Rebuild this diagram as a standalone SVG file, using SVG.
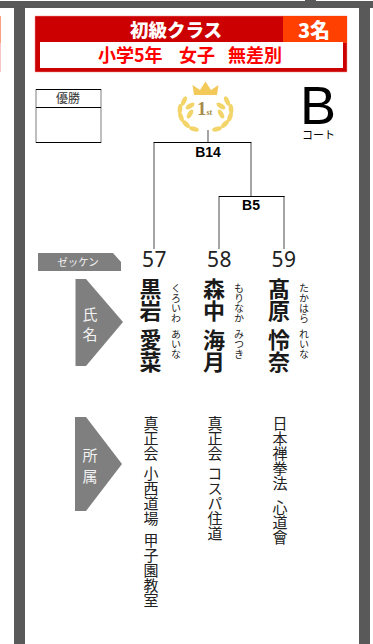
<svg xmlns="http://www.w3.org/2000/svg" width="373" height="644" viewBox="0 0 373 644">
<defs>
<style>
text{font-family:"Noto Sans CJK JP","Liberation Sans",sans-serif}
.v{writing-mode:vertical-rl;text-orientation:upright}
.n{font-size:21px;font-family:"Noto Sans",sans-serif;fill:#222;text-anchor:middle;letter-spacing:0.500px}
.name{font-size:22px;font-weight:700;fill:#1a1a1a}
.kana{font-size:10px;fill:#222}
.org{font-size:15px;fill:#222}
.lb{fill:#7f7f7f}
.lt{font-size:15px;fill:#f2f2f2;text-anchor:middle}
.g{stroke:#7f7f7f;stroke-width:1.4;fill:none}
.k{stroke:#000;stroke-width:1;fill:none}
.bk{font-size:14px;font-weight:700;font-family:"Liberation Sans",sans-serif;fill:#000;text-anchor:middle}
.sub{font-size:18px;font-weight:700;fill:#ff0000}
.leaf{fill:#f3d469}
</style>
<ellipse id="leaf" cx="0" cy="0" rx="5" ry="2.300" class="leaf"/>
</defs>
<rect width="373" height="644" fill="#fff"/>
<g id="frame">
<rect x="0" y="16" width="1" height="27" fill="#f8a080"/>
<rect x="0" y="43" width="1" height="29" fill="#fbc4c4"/>
<rect x="0" y="1" width="373" height="7" fill="#595959"/>
<rect x="14" y="1" width="11" height="643" fill="#595959"/>
<rect x="359" y="1" width="11" height="643" fill="#595959"/>
<rect x="305" y="0" width="11" height="2" fill="#595959"/>
</g>
<g id="header">
<rect x="35" y="16" width="312" height="56" fill="#cc0000" stroke="#f09a9a" stroke-width="0.500"/>
<rect x="283" y="16" width="64" height="27" fill="#ff4000"/>
<rect x="40" y="42" width="303" height="26" fill="#fff"/>
<text x="176" y="36.500" font-size="18.500" font-weight="900" fill="#fff" text-anchor="middle">初級クラス</text>
<text x="314" y="38" font-size="20" font-weight="900" fill="#fff" text-anchor="middle">3名</text>
<text class="sub" x="98" y="62">小学5年</text>
<text class="sub" x="179" y="62">女子</text>
<text class="sub" x="228" y="62">無差別</text>
</g>
<g id="winner">
<rect x="36" y="89.500" width="65" height="53" fill="#fff" stroke="#7f7f7f"/>
<path d="M36 89.500H101M36 107.500H101M36 142.500H101" stroke="#000" fill="none"/>
<text x="68" y="103" font-size="12" fill="#333" text-anchor="middle">優勝</text>
</g>
<g id="crown">
<path d="M194 95L192.500 85L200 90L205.500 81.500L211 90L218.500 85L217 95Z" fill="#f3c95a"/>
<use href="#leaf" transform="translate(184 101) rotate(-65)"/>
<use href="#leaf" transform="translate(180 109) rotate(-85)"/>
<use href="#leaf" transform="translate(181 117) rotate(-110)"/>
<use href="#leaf" transform="translate(186 124) rotate(-135)"/>
<use href="#leaf" transform="translate(194 129) rotate(-165)"/>
<use href="#leaf" transform="translate(190 106) rotate(-35)"/>
<use href="#leaf" transform="translate(190 114) rotate(-60)"/>
<use href="#leaf" transform="translate(227 101) rotate(65)"/>
<use href="#leaf" transform="translate(231 109) rotate(85)"/>
<use href="#leaf" transform="translate(230 117) rotate(110)"/>
<use href="#leaf" transform="translate(225 124) rotate(135)"/>
<use href="#leaf" transform="translate(217 129) rotate(165)"/>
<use href="#leaf" transform="translate(221 106) rotate(35)"/>
<use href="#leaf" transform="translate(221 114) rotate(60)"/>
<text x="197" y="115" font-size="19" font-weight="700" fill="#a88a4a" style="font-family:'Liberation Serif',serif">1</text>
<text x="206.500" y="115" font-size="8" font-weight="700" fill="#a88a4a" style="font-family:'Liberation Serif',serif">st</text>
</g>
<g id="court">
<text x="300" y="124" font-size="54" fill="#000" style="font-family:'Liberation Sans',sans-serif">B</text>
<text x="318.500" y="139" font-size="11" fill="#000" text-anchor="middle">コート</text>
</g>
<g id="connectors">
<path class="g" d="M154 249V143M251 196V143M208 130V143M219 249V196M284 249V196"/>
<path class="k" d="M153.500 142.500H251.500M219 196.500H284.500"/>
</g>
<text class="bk" x="208" y="157">B14</text>
<text class="bk" x="251" y="210">B5</text>
<g id="label-zekken">
<path class="lb" d="M38 253H113L121 262V271H38Z"/>
<text x="78" y="266" font-size="10.500" fill="#f2f2f2" text-anchor="middle">ゼッケン</text>
</g>
<g id="label-name">
<path class="lb" d="M75.500 279H86L123 322L86 366H75.500Z"/>
<text class="lt" x="90" y="320">氏</text>
<text class="lt" x="90" y="340">名</text>
</g>
<g id="label-org">
<path class="lb" d="M75 417H86L122 464L86 511H75Z"/>
<text class="lt" x="90" y="461">所</text>
<text class="lt" x="90" y="482">属</text>
</g>
<g id="p57">
<text class="n" x="154.500" y="267">57</text>
<text class="v name" x="150.500" y="278">黒岩</text>
<text class="v name" x="150.500" y="329">愛菜</text>
<text class="v kana" x="176" y="283">くろいわ</text>
<text class="v kana" x="176" y="329">あいな</text>
<text class="v org" x="151" y="416">真正会</text>
<text class="v org" x="151" y="466">小西道場</text>
<text class="v org" x="151" y="533">甲子園教室</text>
</g>
<g id="p58">
<text class="n" x="219.500" y="267">58</text>
<text class="v name" x="214" y="278">森中</text>
<text class="v name" x="214" y="329">海月</text>
<text class="v kana" x="239" y="283">もりなか</text>
<text class="v kana" x="239" y="329">みつき</text>
<text class="v org" x="215" y="416">真正会</text>
<text class="v org" x="215" y="466">コスパ住道</text>
</g>
<g id="p59">
<text class="n" x="284" y="267">59</text>
<text class="v name" x="279" y="278">髙原</text>
<text class="v name" x="279" y="329">怜奈</text>
<text class="v kana" x="304" y="283">たかはら</text>
<text class="v kana" x="304" y="329">れいな</text>
<text class="v org" x="280" y="416">日本禅拳法</text>
<text class="v org" x="280" y="500">心道會</text>
</g>
</svg>
